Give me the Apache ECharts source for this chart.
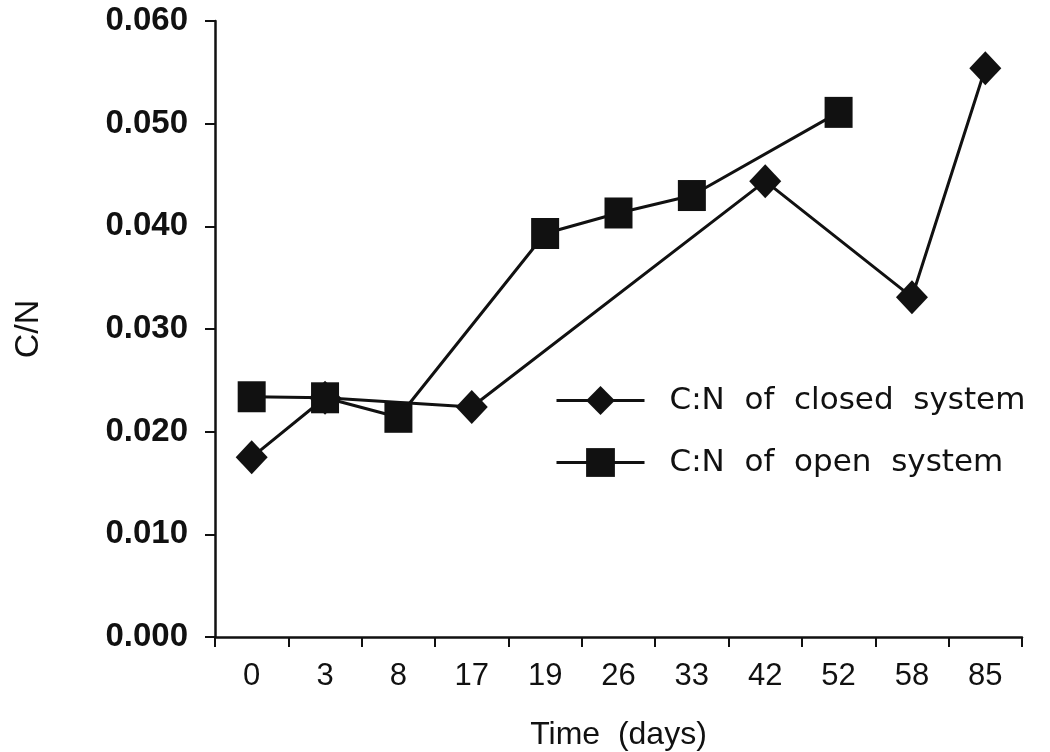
<!DOCTYPE html>
<html>
<head>
<meta charset="utf-8">
<script src="https://cdn.jsdelivr.net/npm/echarts@6/dist/echarts.min.js"></script>
<style>html,body{margin:0;padding:0;background:#fff}#c{width:1050px;height:752px}</style>
</head>
<body>
<div id="c"></div>
<script>
const days = ['0','3','8','17','19','26','33','42','52','58','85'];
const closedSystem = [0.0175, 0.0233, null, 0.0224, null, null, null, 0.0444, null, 0.0331, 0.0554];
const openSystem = [0.0234, 0.0233, 0.0214, null, 0.0393, 0.0413, 0.0430, null, 0.0511, null, null];
const yTicks = { min: 0, max: 0.06, interval: 0.01 };

const chart = echarts.init(document.getElementById('c'));
chart.setOption({
  backgroundColor: '#fff',
  animation: false,
  grid: { left: 215, right: 28, top: 21, bottom: 115, containLabel: false, outerBoundsMode: 'none' },
  legend: {
    orient: 'vertical', left: 550, top: 380,
    itemWidth: 88, itemHeight: 36, itemGap: 31,
    lineStyle: { width: 3 },
    textStyle: { fontFamily: 'DejaVu Sans', fontSize: 31, color: '#111', padding: [0,0,0,20] },
    data: ['C:N  of  closed  system', 'C:N  of  open  system']
  },
  xAxis: {
    type: 'category', data: days, boundaryGap: true,
    name: 'Time  (days)', nameLocation: 'middle', nameGap: 82,
    nameTextStyle: { fontFamily: 'Liberation Sans', fontSize: 32, color: '#111' },
    axisLine: { lineStyle: { color: '#111', width: 2.5 } },
    axisTick: { show: true, length: 10, lineStyle: { color: '#111', width: 2 } },
    axisLabel: { fontFamily: 'Liberation Sans', fontSize: 31, color: '#111', margin: 24 }
  },
  yAxis: {
    type: 'value', min: yTicks.min, max: yTicks.max, interval: yTicks.interval,
    name: 'C/N', nameLocation: 'middle', nameGap: 169, nameRotate: 90,
    nameTextStyle: { fontFamily: 'Liberation Sans', fontSize: 34, color: '#111' },
    splitLine: { show: false },
    axisLine: { show: true, lineStyle: { color: '#111', width: 2.5 } },
    axisTick: { show: true, length: 10, lineStyle: { color: '#111', width: 2 } },
    axisLabel: { fontFamily: 'Liberation Sans', fontWeight: 'bold', fontSize: 33, color: '#111', margin: 27,
      formatter: v => v.toFixed(3) }
  },
  series: [
    { name: 'C:N  of  closed  system', type: 'line', data: closedSystem, connectNulls: true,
      symbol: 'diamond', symbolSize: [32, 34],
      lineStyle: { color: '#111', width: 3 }, itemStyle: { color: '#111' }, z: 3 },
    { name: 'C:N  of  open  system', type: 'line', data: openSystem, connectNulls: true,
      symbol: 'rect', symbolSize: [28, 31],
      lineStyle: { color: '#111', width: 3 }, itemStyle: { color: '#111' }, z: 2 }
  ]
});
</script>
</body>
</html>
